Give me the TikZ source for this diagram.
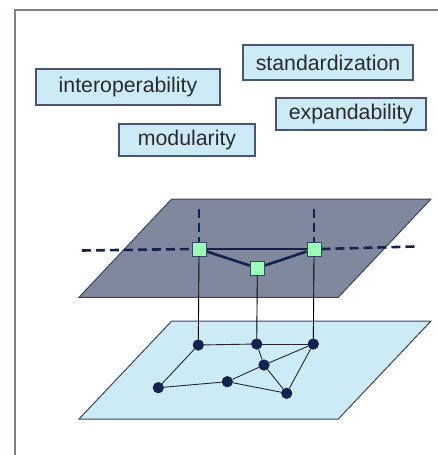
\documentclass[tikz,border=0pt]{standalone}
\usepackage{fontspec}
\setmainfont{Liberation Sans}
\begin{document}
\begin{tikzpicture}[x=1pt,y=-1pt,
  label box/.style={draw=boxborder,fill=lightblue,line width=1.2pt,text=textgray,
    font=\fontsize{21.3}{25}\selectfont,inner sep=0pt,anchor=center},
  sq/.style={draw=sqborder,fill=sqgreen,line width=1pt,minimum size=14pt,inner sep=0pt},
  dot/.style={circle,fill=navy,minimum size=11pt,inner sep=0pt},
  thickedge/.style={draw=navy,line width=2.6pt},
  dashededge/.style={draw=navy,line width=2.6pt,dash pattern=on 9pt off 5pt},
  thinedge/.style={draw=black,line width=0.9pt},
  graphedge/.style={draw=black!85,line width=0.9pt}]
\definecolor{lightblue}{HTML}{CDEBF6}
\definecolor{boxborder}{HTML}{4A5572}
\definecolor{textgray}{HTML}{2A2A2A}
\definecolor{planegray}{HTML}{7F889D}
\definecolor{planeborder}{HTML}{3A4466}
\definecolor{sqgreen}{HTML}{99FFB5}
\definecolor{sqborder}{HTML}{334466}
\definecolor{navy}{HTML}{14224F}
\definecolor{framecol}{HTML}{7A8090}
\useasboundingbox (0,0) rectangle (438,455);
% frame
\draw[framecol,line width=1.5pt] (15,455) -- (15,10) -- (438,10);
% labels
\node[label box,minimum width=184pt,minimum height=36pt] (interop) at (128,87) {interoperability};
\node[label box,minimum width=170pt,minimum height=35pt] (std) at (328,62.5) {standardization};
\node[label box,minimum width=150pt,minimum height=32pt] (expand) at (351,114) {expandability};
\node[label box,minimum width=136pt,minimum height=32pt] (modul) at (187,140) {modularity};
% planes
\filldraw[fill=planegray,draw=planeborder,line width=1pt] (171.7,199) -- (431,199) -- (338.3,297.3) -- (79,297.3) -- cycle;
\filldraw[fill=lightblue,draw=planeborder,line width=1pt] (171.7,321) -- (431,321) -- (338.3,419) -- (79,419) -- cycle;
% top nodes
\node[sq] (s1) at (199,249) {};
\node[sq] (s2) at (257.3,268) {};
\node[sq] (s3) at (314,249) {};
\coordinate (v1) at (199,209);
\coordinate (v3) at (314,209);
\coordinate (hl) at (82,250.5);
\coordinate (hr) at (415,246.5);
% bottom nodes
\node[dot] (a) at (198.3,345) {};
\node[dot] (b) at (256.7,344) {};
\node[dot] (c) at (313.3,344) {};
\node[dot] (d) at (264,365) {};
\node[dot] (e) at (227.3,381.7) {};
\node[dot] (f) at (158.3,387.7) {};
\node[dot] (g) at (286.7,393.3) {};
% top edges
\draw[dashededge] (v1) -- (s1.north);
\draw[dashededge] (v3) -- (s3.north);
\draw[dashededge] (hl) -- (s1.west);
\draw[dashededge] (s3.east) -- (hr);
\draw[thickedge] (s1) -- (s3);
\draw[thickedge] (s1) -- (s2);
\draw[thickedge] (s2) -- (s3);
\node[sq] at (s1) {};
\node[sq] at (s2) {};
\node[sq] at (s3) {};
% vertical links
\draw[thinedge] (s1.south) -- (a);
\draw[thinedge] (s2.south) -- (b);
\draw[thinedge] (s3.south) -- (c);
% bottom graph
\draw[graphedge] (a) -- (b);
\draw[graphedge] (b) -- (c);
\draw[graphedge] (a) -- (f);
\draw[graphedge] (f) -- (e);
\draw[graphedge] (e) -- (d);
\draw[graphedge] (d) -- (c);
\draw[graphedge] (b) -- (d);
\draw[graphedge] (d) -- (g);
\draw[graphedge] (c) -- (g);
\draw[graphedge] (e) -- (g);
\foreach \n in {a,b,c,d,e,f,g} \node[dot] at (\n) {};
\end{tikzpicture}
\end{document}
